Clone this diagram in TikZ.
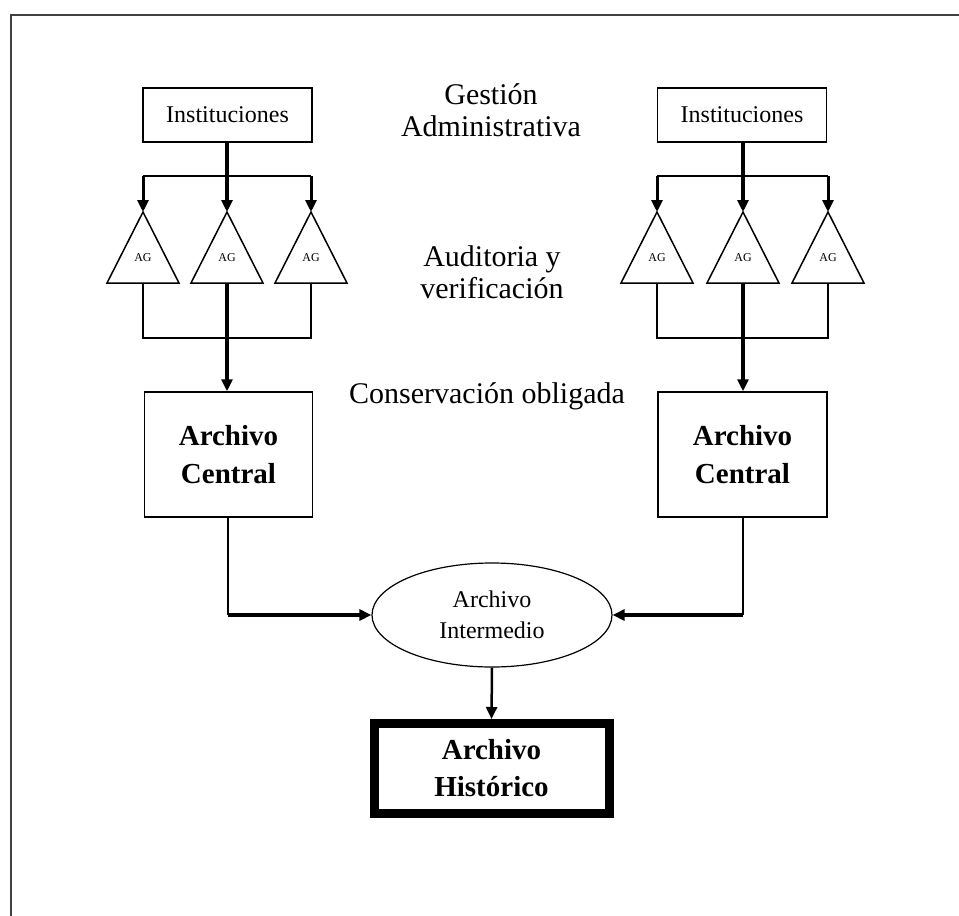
\documentclass[tikz,border=0pt]{standalone}
\usepackage{fontspec}
\setmainfont{Liberation Serif}
\usetikzlibrary{arrows.meta,shapes.geometric}

\begin{document}
\begin{tikzpicture}[x=1pt,y=-1pt,
  box/.style={draw,line width=1.5pt,rectangle,inner sep=0pt,align=center},
  instbox/.style={box,minimum width=169pt,minimum height=54pt,font=\fontsize{24}{28}\selectfont},
  centralbox/.style={box,minimum width=168pt,minimum height=125pt,font=\fontsize{29}{38}\selectfont\bfseries},
  histbox/.style={box,line width=9pt,minimum width=235pt,minimum height=90pt,font=\fontsize{29}{37}\selectfont\bfseries},
  interell/.style={draw,line width=1.2pt,ellipse,minimum width=240pt,minimum height=104pt,inner sep=0pt,align=center,font=\fontsize{24}{31}\selectfont},
  stage/.style={align=center,font=\fontsize{30}{32}\selectfont},
  agtext/.style={inner sep=0pt,font=\fontsize{12}{12}\selectfont},
  tri/.style={line width=1.5pt,line join=miter},
  tip/.style={-{Triangle[length=12pt,width=11pt]}},
  heavy/.style={line width=3.5pt},
  medium/.style={line width=2pt},
  light/.style={line width=1.5pt}
]
\useasboundingbox (0,0) rectangle (959,916);

% open frame: top and left edges only
\draw[line width=2pt,black!75] (11,916) -- (11,15) -- (959,15);

% stage labels
\node[stage] (gest) at (491,110) {Gestión\\Administrativa};
\node[stage] (audit) at (492,272) {Auditoria y\\verificación};
\node[stage] (cons) at (487,396) {Conservación obligada};

% ---------- left branch ----------
\node[instbox] (instL) at (227.5,115) {Instituciones};
\coordinate (barL) at (227,176);
\coordinate (barLa) at (143,176);
\coordinate (barLc) at (311,176);

\foreach \n/\x in {a/143,b/227,c/311}{
  \coordinate (apL\n) at (\x,212);
  \coordinate (baL\n) at (\x,283);
  \coordinate (colL\n) at (\x,338);
  \draw[tri] (\x,212) -- (\x-36,283) -- (\x+36,283) -- cycle;
  \node[agtext] (agL\n) at (\x,258) {AG};
}

\draw[heavy,tip] (instL.south -| barL) -- (apLb);
\draw[medium] (barLa) -- (barLc);
\draw[medium,line width=3pt,tip] (barLa) -- (apLa);
\draw[medium,line width=3pt,tip] (barLc) -- (apLc);

\draw[light] (baLa) -- (colLa) -- (colLc) -- (baLc);

\node[centralbox] (acL) at (228.5,454.5) {Archivo\\Central};
\draw[heavy,tip] (baLb) -- (acL.north -| baLb);

% ---------- right branch ----------
\node[instbox] (instR) at (742,115) {Instituciones};
\coordinate (barR) at (743,176);
\coordinate (barRa) at (657,176);
\coordinate (barRc) at (828,176);

\foreach \n/\x in {a/657,b/743,c/828}{
  \coordinate (apR\n) at (\x,212);
  \coordinate (baR\n) at (\x,283);
  \coordinate (colR\n) at (\x,338);
  \draw[tri] (\x,212) -- (\x-36,283) -- (\x+36,283) -- cycle;
  \node[agtext] (agR\n) at (\x,258) {AG};
}

\draw[heavy,tip] (instR.south -| barR) -- (apRb);
\draw[medium] (barRa) -- (barRc);
\draw[medium,line width=3pt,tip] (barRa) -- (apRa);
\draw[medium,line width=3pt,tip] (barRc) -- (apRc);

\draw[light] (baRa) -- (colRa) -- (colRc) -- (baRc);

\node[centralbox,minimum width=169pt] (acR) at (742.5,454.5) {Archivo\\Central};
\draw[heavy,tip] (baRb) -- (acR.north -| baRb);

% ---------- intermediate and historical archives ----------
\node[interell] (inter) at (492,615) {Archivo\\Intermedio};

\coordinate (jL) at (228,615);
\coordinate (jR) at (743,615);
\draw[light] (acL.south -| jL) -- (jL);
\draw[heavy,tip] (jL) -- (inter.west);
\draw[light] (acR.south -| jR) -- (jR);
\draw[heavy,tip] (jR) -- (inter.east);

\node[histbox] (hist) at (491.5,768.5) {Archivo\\Histórico};
\draw[line width=2.5pt,tip] (inter.south) -- (hist.north);

\end{tikzpicture}
\end{document}
